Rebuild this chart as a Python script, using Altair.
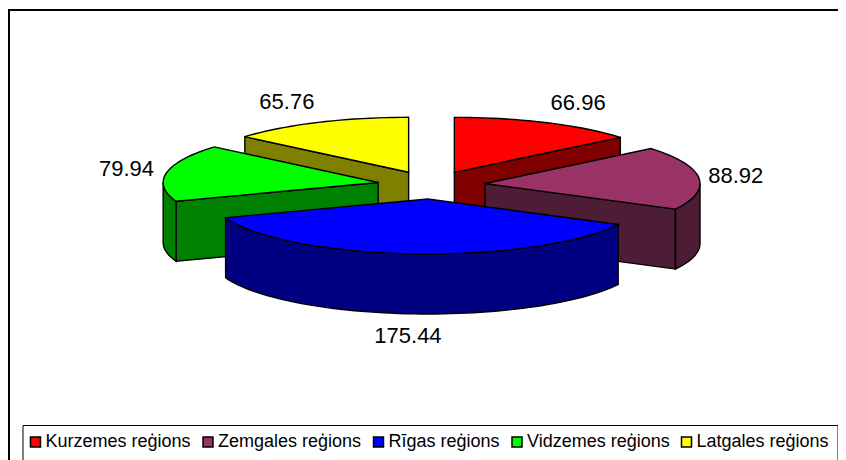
import math
import altair as alt
import pandas as pd

# ---- data
categories = ["Kurzemes reģions", "Zemgales reģions", "Rīgas reģions", "Vidzemes reģions", "Latgales reģions"]
values = [66.96, 88.92, 175.44, 79.94, 65.76]
top_colors = ["#ff0000", "#993366", "#0000ff", "#00ff00", "#ffff00"]
side_colors = ["#800000", "#4d1c35", "#000080", "#008000", "#808000"]
paint_order = [0, 4, 1, 3, 2]

# ---- pie layout (page px minus the 8px margin)
W, H = 830, 452
CX, CY = 423.3, 177
RX, RY = 215, 55
DEPTH = 60
EX, EY = 54, 14


def pt(ax, ay, deg, z=0):
    a = math.radians(deg)
    return [ax + RX * math.sin(a), ay - RY * math.cos(a) + z]


def arc(ax, ay, a0, a1, z=0):
    n = max(2, int(abs(a1 - a0) / 2))
    return [pt(ax, ay, a0 + (a1 - a0) * i / n, z) for i in range(n + 1)]


def feature(name, ring):
    ring = ring + [ring[0]]
    return {"type": "Feature", "properties": {"name": name},
            "geometry": {"type": "Polygon", "coordinates": [ring]}}


total = sum(values)
spans = []
acc = 0.0
for v in values:
    d = v / total * 360
    spans.append((acc, acc + d))
    acc += d

features = []
labels = []
for i in paint_order:
    a0, a1 = spans[i]
    mid = math.radians((a0 + a1) / 2)
    ax = CX + EX * math.sin(mid)
    ay = CY - EY * math.cos(mid)
    side = categories[i] + " side"
    # radial cut faces that look towards the viewer
    if 0 < a1 < 180:
        p = pt(ax, ay, a1)
        features.append(feature(side, [[ax, ay], p, [p[0], p[1] + DEPTH], [ax, ay + DEPTH]]))
    if 180 < a0 < 360:
        p = pt(ax, ay, a0)
        features.append(feature(side, [[ax, ay], p, [p[0], p[1] + DEPTH], [ax, ay + DEPTH]]))
    # outer rim, front half only
    r0, r1 = max(a0, 90), min(a1, 270)
    if r1 > r0:
        features.append(feature(side, arc(ax, ay, r0, r1) + arc(ax, ay, r1, r0, DEPTH)))
    # top
    features.append(feature(categories[i], [[ax, ay]] + arc(ax, ay, a0, a1)))
    fx = 1.15 + 0.22 * abs(math.cos(mid))
    labels.append({
        "label": f"{values[i]:.2f}",
        "px": ax + RX * fx * math.sin(mid),
        "py": ay - RY * 1.4 * math.cos(mid) + (DEPTH if math.cos(mid) < -0.5 else 0),
    })

domain = categories + [c + " side" for c in categories]
color_range = top_colors + side_colors

pie = (
    alt.Chart(alt.Data(values=features))
    .mark_geoshape(stroke="black", strokeWidth=1.4, strokeJoin="miter")
    .encode(
        color=alt.Color(
            "properties.name:N",
            scale=alt.Scale(domain=domain, range=color_range),
            legend=alt.Legend(
                values=categories, title=" ", titleOrient="bottom", titleFontSize=8,
                orient="none",
                legendX=14.5, legendY=417, direction="horizontal", columns=5,
                gridAlign="each", columnPadding=8.5,
                symbolType="square", symbolSize=100, symbolOffset=-4,
                symbolStrokeColor="black", symbolStrokeWidth=1.5,
                labelFont="Liberation Sans", labelFontSize=18, labelColor="black",
                labelOffset=1, labelLimit=300,
                fillColor="white", strokeColor="black", padding=8,
            ),
        )
    )
    .project(type="identity", scale=1, translate=[0, 0])
)

text = (
    alt.Chart(pd.DataFrame(labels))
    .mark_text(font="Liberation Sans", fontSize=22, color="black")
    .encode(
        x=alt.X("px:Q", scale=alt.Scale(domain=[0, W], range=[0, W]), axis=None),
        y=alt.Y("py:Q", scale=alt.Scale(domain=[0, H], range=[0, H]), axis=None),
        text="label:N",
    )
)

frame_top = alt.Chart(pd.DataFrame({"a": [0]})).mark_rule(color="black", strokeWidth=2).encode(
    x=alt.value(1), x2=alt.value(W), y=alt.value(2))
frame_left = alt.Chart(pd.DataFrame({"a": [0]})).mark_rule(color="black", strokeWidth=2).encode(
    x=alt.value(1), y=alt.value(1), y2=alt.value(H))

chart = (
    alt.layer(frame_top, frame_left, pie, text)
    .resolve_scale(x="independent", y="independent")
    .properties(width=W, height=H, padding=0, autosize=alt.AutoSizeParams(type="none"))
    .configure_view(stroke=None)
)
chart.save("out.html", embed_options={"renderer": "svg", "actions": False})
